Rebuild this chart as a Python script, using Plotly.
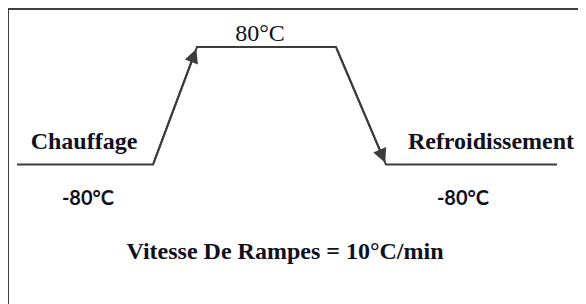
import plotly.graph_objects as go

# Temperature profile (x = time position, arbitrary units; y = temperature °C)
profile_time = [17, 153, 197, 336, 386, 557]
profile_temp = [-80, -80, 80, 80, -80, -80]

# Labels
label_texts = ["80°C", "<b>Chauffage</b>", "<b>Refroidissement</b>",
               "<b>Vitesse De Rampes = 10°C/min</b>"]
label_time = [260, 84, 491, 285]
label_temp = [96.5, -50.5, -50.5, -200.5]

temp_labels = ["<b>-80°C</b>", "<b>-80°C</b>"]
temp_label_time = [88, 463]
temp_label_temp = [-128, -128]

line_color = "#3c3c3c"
text_color = "#10101e"

fig = go.Figure()
fig.add_trace(go.Scatter(
    x=profile_time, y=profile_temp, mode="lines",
    line=dict(color=line_color, width=2), hoverinfo="skip", showlegend=False,
))

# Arrowheads on the ramps
for a, b in [(1, 2), (3, 4)]:
    fig.add_annotation(x=profile_time[b], y=profile_temp[b], ax=profile_time[a], ay=profile_temp[a],
                       xref="x", yref="y", axref="x", ayref="y", text="", showarrow=True,
                       arrowhead=2, arrowsize=1.4, arrowwidth=2, arrowcolor=line_color, standoff=2)

fig.add_trace(go.Scatter(
    x=label_time, y=label_temp, mode="text", text=label_texts,
    textfont=dict(family="Liberation Serif", size=24, color=text_color),
    textposition="middle center", hoverinfo="skip", showlegend=False,
))
fig.add_trace(go.Scatter(
    x=temp_label_time, y=temp_label_temp, mode="text", text=temp_labels,
    textfont=dict(family="Lato", size=20, color=text_color),
    textposition="middle center", hoverinfo="skip", showlegend=False,
))

fig.update_layout(
    width=586, height=304,
    margin=dict(l=1, r=8, t=2, b=8),
    paper_bgcolor="white", plot_bgcolor="white",
    xaxis=dict(range=[9, 586], showgrid=False, zeroline=False, showticklabels=False,
               ticks="", showline=True, linecolor="#404040", linewidth=2, side="top"),
    yaxis=dict(range=[-269.9, 130.4], showgrid=False, zeroline=False, showticklabels=False,
               ticks="", showline=True, linecolor="#404040", linewidth=2),
)

fig.write_html("out.html")
